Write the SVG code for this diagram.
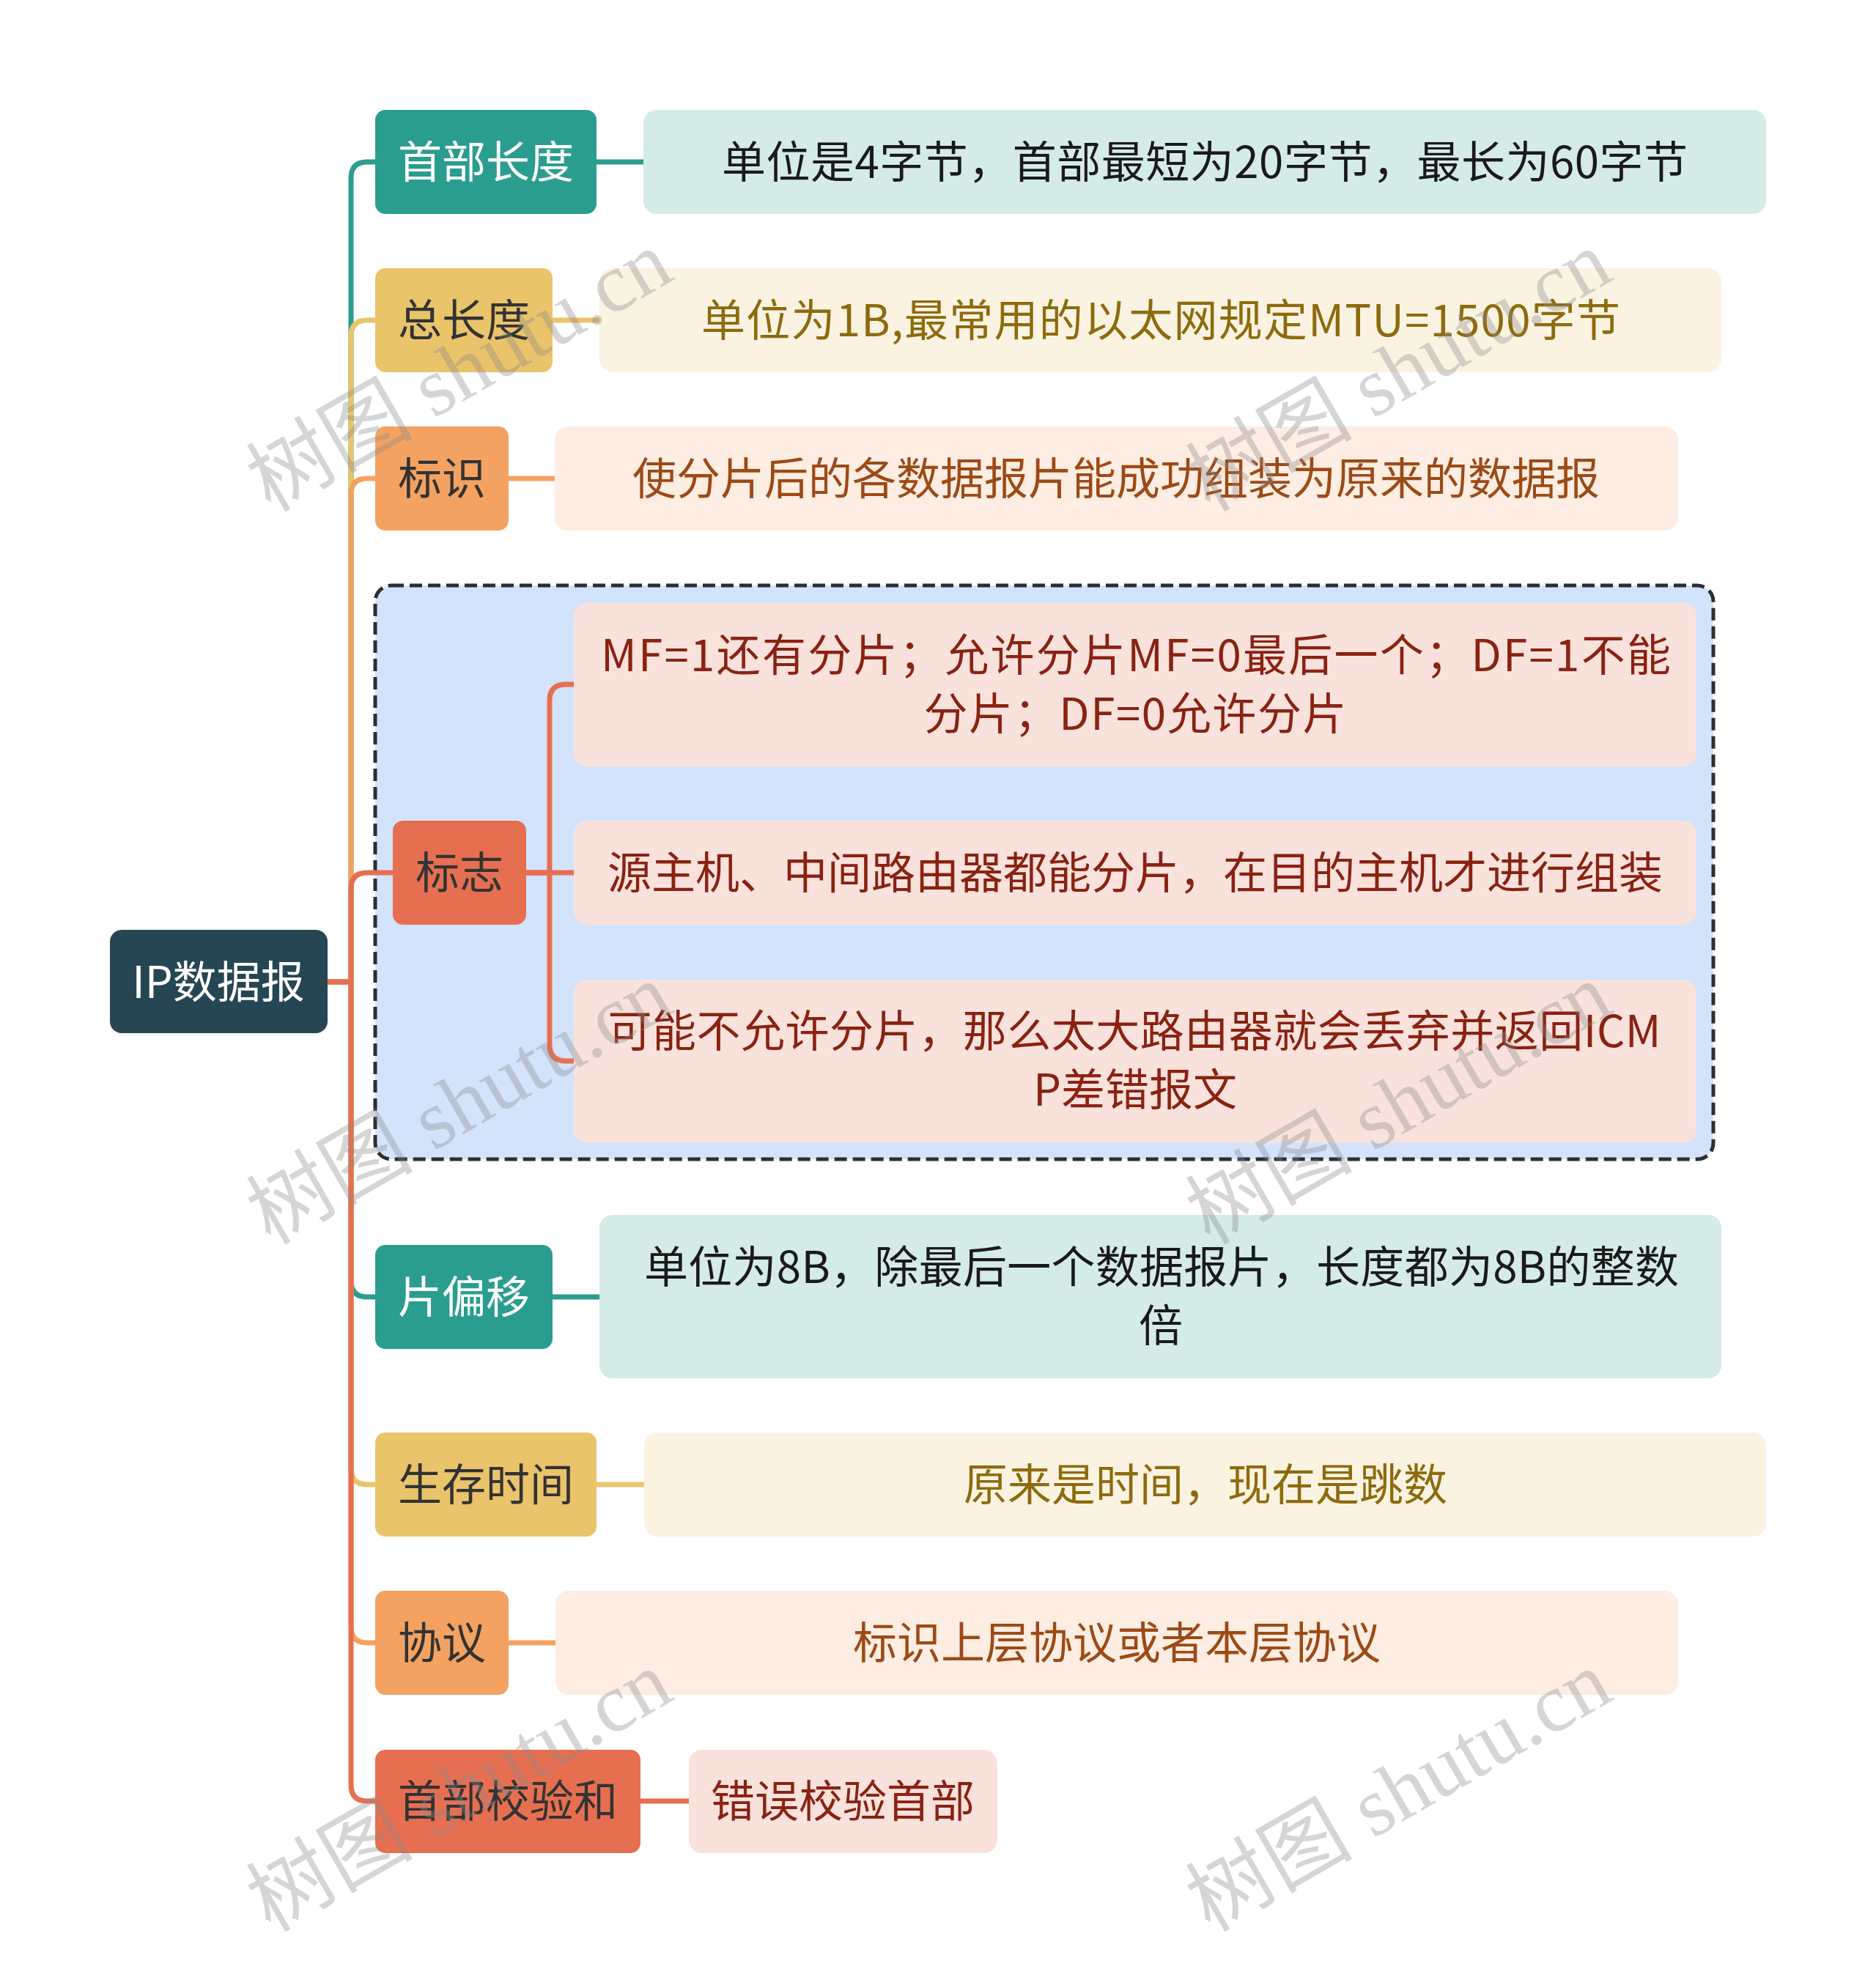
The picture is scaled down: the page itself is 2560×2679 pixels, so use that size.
<svg xmlns="http://www.w3.org/2000/svg" width="2560" height="2679" viewBox="0 0 2560 2679">
<style>
.t{font-family:"Noto Sans CJK SC","Microsoft YaHei",sans-serif;font-size:60px;text-anchor:middle}
.w{fill:#ffffff}.d{fill:#333333}.k{fill:#1a1a1a}.gy{fill:#8d6b0d}.ob{fill:#9c4a16}.rd{fill:#8a2212}
.c{fill:none;stroke-width:7}
.teal{stroke:#2a9d8f}.yel{stroke:#e9c46a}.org{stroke:#f4a261}.red{stroke:#e76f51}
.wm{font-family:"Liberation Serif","Noto Sans CJK SC",serif;font-size:114px;fill:#8a8a8a;opacity:0.35;text-anchor:middle}
</style>
<rect width="2560" height="2679" fill="#ffffff"/>

<g id="group-flags">
<rect x="512" y="799" width="1826" height="783" rx="22" fill="#d3e3fc" stroke="#2b2f33" stroke-width="5" stroke-dasharray="17 8"/>
</g>

<g id="connectors">
<path class="c teal" d="M447 1340 H479 V243 Q479 221 501 221 H512"/>
<path class="c yel" d="M447 1340 H479 V459 Q479 437 501 437 H512"/>
<path class="c org" d="M447 1340 H479 V675 Q479 653 501 653 H512"/>
<path class="c red" d="M447 1340 H479 V1213 Q479 1191 501 1191 H536"/>
<path class="c teal" d="M447 1340 H479 V1748 Q479 1770 501 1770 H512"/>
<path class="c yel" d="M447 1340 H479 V2004 Q479 2026 501 2026 H512"/>
<path class="c org" d="M447 1340 H479 V2220 Q479 2242 501 2242 H512"/>
<path class="c red" d="M447 1340 H479 V2436 Q479 2458 501 2458 H512"/>
<path class="c teal" d="M814 221 H878"/>
<path class="c yel" d="M754 437 H818"/>
<path class="c org" d="M694 653 H757"/>
<path class="c red" d="M718 1191 H783"/>
<path class="c red" d="M718 1191 H750 V956 Q750 934 772 934 H783"/>
<path class="c red" d="M718 1191 H750 V1426 Q750 1448 772 1448 H783"/>
<path class="c teal" d="M754 1770 H818"/>
<path class="c yel" d="M814 2026 H879"/>
<path class="c org" d="M694 2242 H758"/>
<path class="c red" d="M874 2458 H940"/>
</g>

<g id="root">
<rect x="150" y="1269" width="297" height="141" rx="16" fill="#264653"/>
<text class="t w" x="298" y="1362">IP数据报</text>
</g>

<g id="n1">
<rect x="512" y="150" width="302" height="142" rx="14" fill="#2a9d8f"/>
<text class="t w" x="663" y="243">首部长度</text>
</g>
<g id="n1d">
<rect x="878" y="150" width="1532" height="142" rx="18" fill="#d4ebe8"/>
<text class="t k" x="1644" y="243" textLength="1318" lengthAdjust="spacing">单位是4字节，首部最短为20字节，最长为60字节</text>
</g>

<g id="n2">
<rect x="512" y="366" width="242" height="142" rx="14" fill="#e9c46a"/>
<text class="t d" x="633" y="459">总长度</text>
</g>
<g id="n2d">
<rect x="818" y="366" width="1531" height="142" rx="18" fill="#fbf3e2"/>
<text class="t gy" x="1584" y="459" textLength="1254" lengthAdjust="spacing">单位为1B,最常用的以太网规定MTU=1500字节</text>
</g>

<g id="n3">
<rect x="512" y="582" width="182" height="142" rx="14" fill="#f4a261"/>
<text class="t d" x="603" y="675">标识</text>
</g>
<g id="n3d">
<rect x="757" y="582" width="1533" height="142" rx="18" fill="#fdede2"/>
<text class="t ob" x="1523" y="675">使分片后的各数据报片能成功组装为原来的数据报</text>
</g>

<g id="n4">
<rect x="536" y="1120" width="182" height="142" rx="14" fill="#e76f51"/>
<text class="t d" x="627" y="1213">标志</text>
</g>
<g id="n4a">
<rect x="783" y="823" width="1532" height="223" rx="18" fill="#f9e2dc"/>
<text class="t rd" x="1550" y="916" textLength="1460" lengthAdjust="spacing">MF=1还有分片；允许分片MF=0最后一个；DF=1不能</text>
<text class="t rd" x="1549" y="996" textLength="577" lengthAdjust="spacing">分片；DF=0允许分片</text>
</g>
<g id="n4b">
<rect x="783" y="1120" width="1532" height="142" rx="18" fill="#f9e2dc"/>
<text class="t rd" x="1549" y="1213">源主机、中间路由器都能分片，在目的主机才进行组装</text>
</g>
<g id="n4c">
<rect x="783" y="1337" width="1532" height="223" rx="18" fill="#f9e2dc"/>
<text class="t rd" x="1548" y="1429" textLength="1437" lengthAdjust="spacing">可能不允许分片，那么太大路由器就会丢弃并返回ICM</text>
<text class="t rd" x="1549" y="1509">P差错报文</text>
</g>

<g id="n5">
<rect x="512" y="1699" width="242" height="142" rx="14" fill="#2a9d8f"/>
<text class="t w" x="633" y="1792">片偏移</text>
</g>
<g id="n5d">
<rect x="818" y="1658" width="1531" height="223" rx="18" fill="#d4ebe8"/>
<text class="t k" x="1585" y="1751" textLength="1412" lengthAdjust="spacing">单位为8B，除最后一个数据报片，长度都为8B的整数</text>
<text class="t k" x="1584" y="1831">倍</text>
</g>

<g id="n6">
<rect x="512" y="1955" width="302" height="142" rx="14" fill="#e9c46a"/>
<text class="t d" x="663" y="2048">生存时间</text>
</g>
<g id="n6d">
<rect x="879" y="1955" width="1531" height="142" rx="18" fill="#fbf3e2"/>
<text class="t gy" x="1645" y="2048">原来是时间，现在是跳数</text>
</g>

<g id="n7">
<rect x="512" y="2171" width="182" height="142" rx="14" fill="#f4a261"/>
<text class="t d" x="603" y="2264">协议</text>
</g>
<g id="n7d">
<rect x="758" y="2171" width="1532" height="142" rx="18" fill="#fdede2"/>
<text class="t ob" x="1524" y="2264">标识上层协议或者本层协议</text>
</g>

<g id="n8">
<rect x="512" y="2388" width="362" height="141" rx="14" fill="#e76f51"/>
<text class="t d" x="693" y="2480">首部校验和</text>
</g>
<g id="n8d">
<rect x="940" y="2388" width="421" height="141" rx="18" fill="#f9e2dc"/>
<text class="t rd" x="1150" y="2480">错误校验首部</text>
</g>

<g id="watermarks">
<text class="wm" transform="translate(646 540) rotate(-30)">树图 shutu.cn</text>
<text class="wm" transform="translate(1928 540) rotate(-30)">树图 shutu.cn</text>
<text class="wm" transform="translate(646 1540) rotate(-30)">树图 shutu.cn</text>
<text class="wm" transform="translate(1928 1540) rotate(-30)">树图 shutu.cn</text>
<text class="wm" transform="translate(646 2478) rotate(-30)">树图 shutu.cn</text>
<text class="wm" transform="translate(1928 2478) rotate(-30)">树图 shutu.cn</text>
</g>
</svg>
